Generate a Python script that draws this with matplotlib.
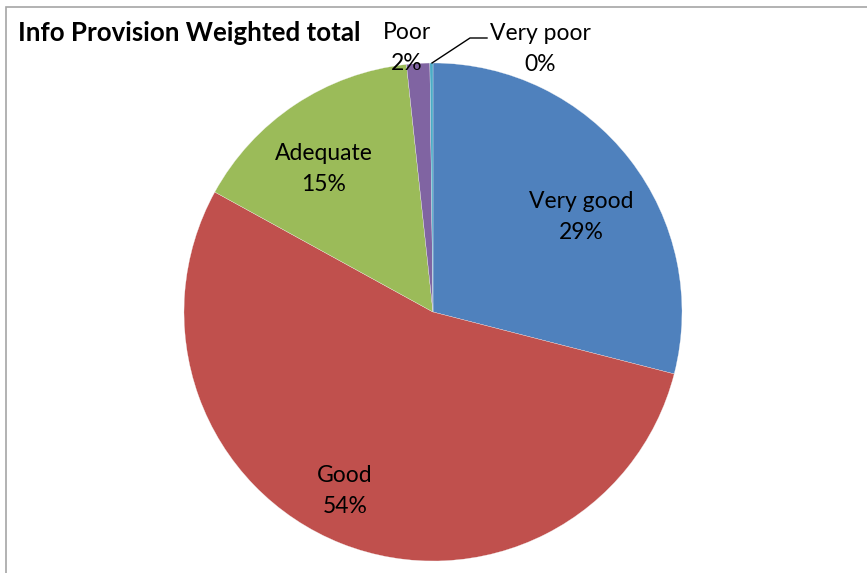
import matplotlib

matplotlib.use("Agg")
import matplotlib.pyplot as plt
from matplotlib.patches import Rectangle

# data
categories = ["Very good", "Good", "Adequate", "Poor", "Very poor"]
shares = [29.0, 54.0, 15.3, 1.5, 0.2]
pct_labels = ["29%", "54%", "15%", "2%", "0%"]
colors = ["#4f81bd", "#c0504d", "#9bbb59", "#8064a2", "#4bacc6"]

W, H = 867, 573
plt.rcParams["font.family"] = ["Lato", "DejaVu Sans"]

fig = plt.figure(figsize=(W / 100, H / 100), dpi=100)

# outer chart frame (cut off at the right and bottom like the original)
fig.patches.append(
    Rectangle((6 / W, -0.05), 1.2, (H - 7) / H + 0.05, transform=fig.transFigure,
              fill=False, edgecolor="#a6a6a6", linewidth=1.2)
)

# pie centre (433, 312) px, radius 249 px
cx, cy, r = 433, 312, 249
ax = fig.add_axes([(cx - r) / W, (H - cy - r) / H, 2 * r / W, 2 * r / H])
ax.pie(
    shares,
    colors=colors,
    startangle=90,
    counterclock=False,
    wedgeprops=dict(edgecolor="#f4f4f4", linewidth=0.2),
)
ax.set_xlim(-1, 1)
ax.set_ylim(-1, 1)
ax.set_aspect("auto")
ax.axis("off")


def px(x, y):
    return x / W, 1 - y / H


fs = 16.5
label_pos = {
    "Very good": (581, 217),
    "Good": (345, 491),
    "Adequate": (324, 169),
    "Poor": (407, 48),
    "Very poor": (540, 49),
}
for cat, pct in zip(categories, pct_labels):
    x, y = label_pos[cat]
    fig.text(*px(x, y), f"{cat}\n{pct}", ha="center", va="center",
             fontsize=fs, linespacing=1.6, color="black")

# leader line for the tiny slice
fig.add_artist(plt.Line2D([432 / W, 470 / W, 487 / W],
                          [1 - 63 / H, 1 - 38 / H, 1 - 38 / H],
                          transform=fig.transFigure, color="black", linewidth=1))

fig.text(*px(18, 33), "Info Provision Weighted total", ha="left", va="center",
         fontsize=18.6, fontweight="bold")

fig.savefig("out.png", dpi=100)
